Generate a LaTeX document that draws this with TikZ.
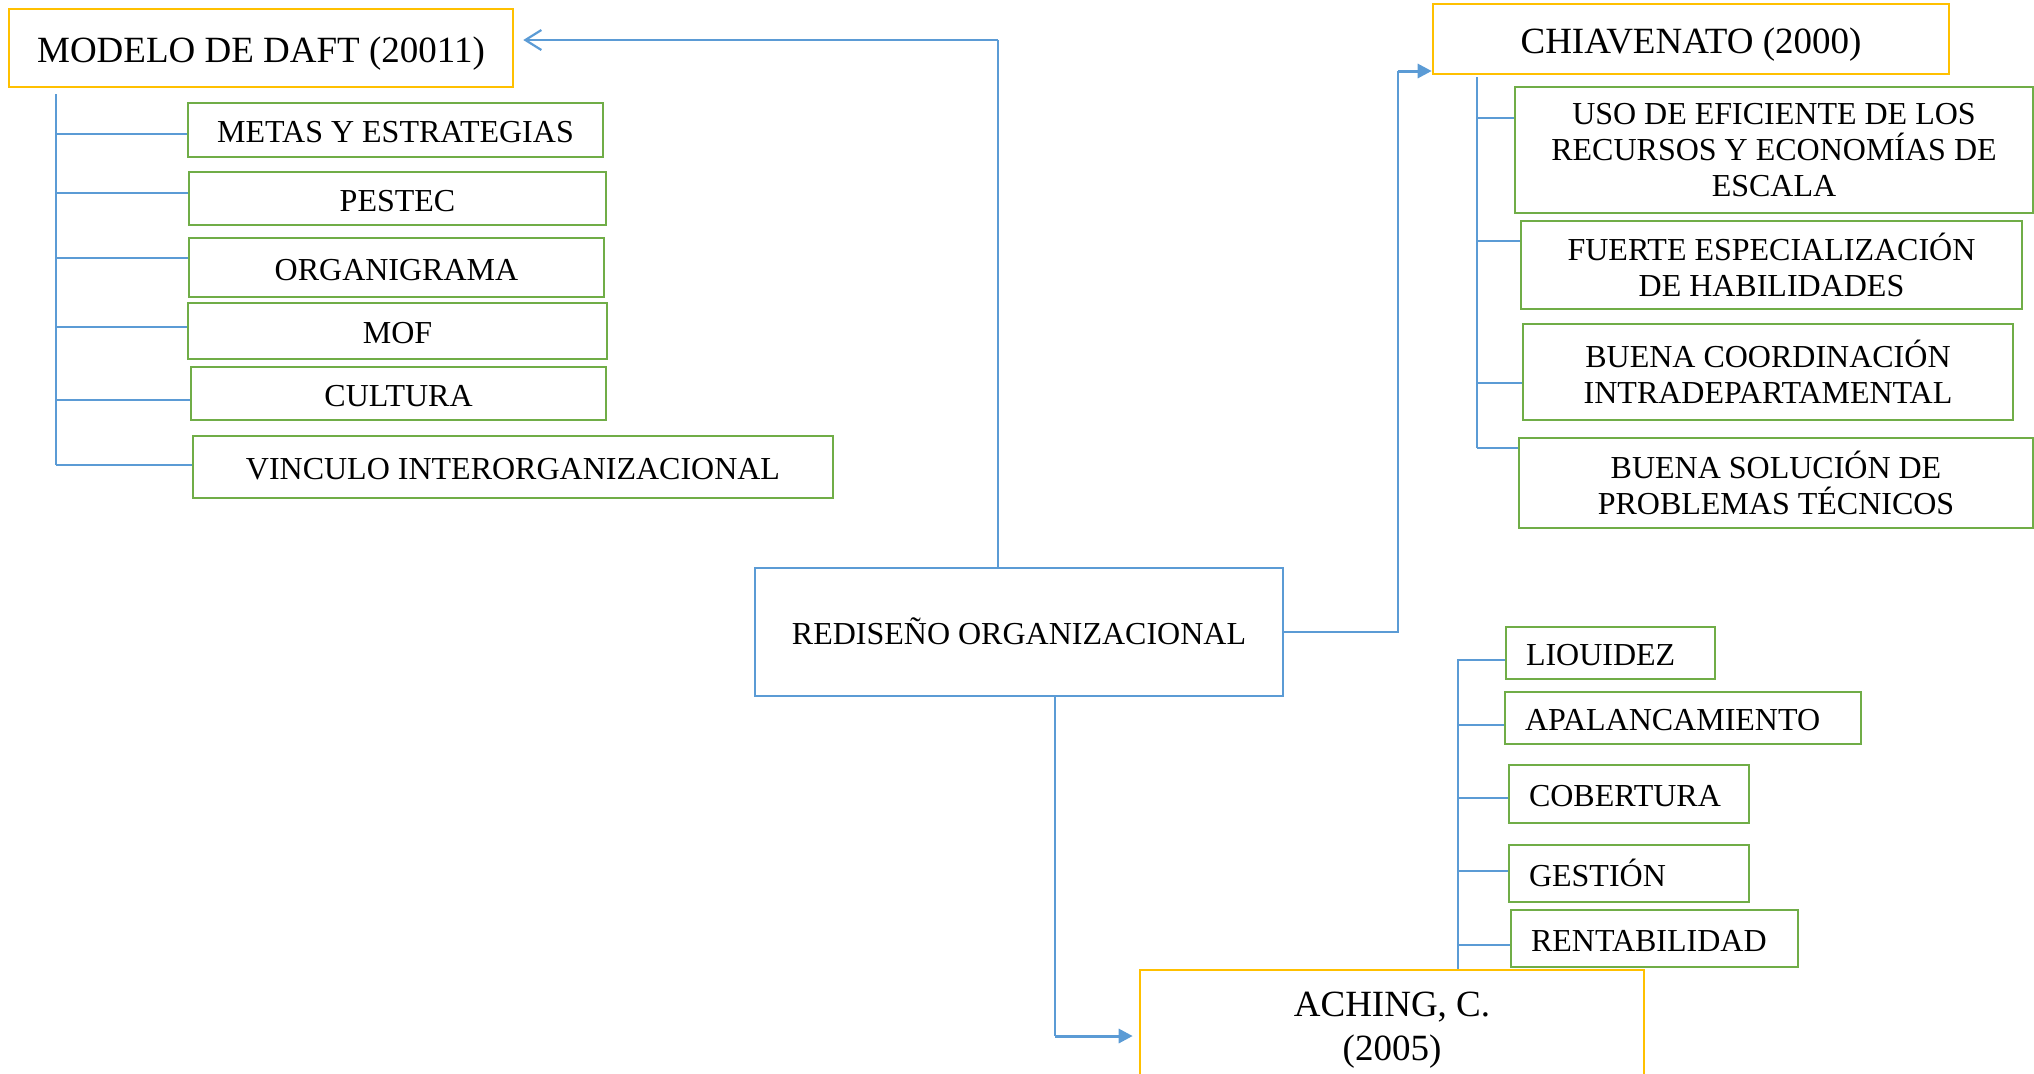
\documentclass[tikz,border=0pt]{standalone}
\usepackage{fontspec}
\setmainfont{Liberation Serif}
\usetikzlibrary{arrows.meta}
\definecolor{gold}{HTML}{FFC000}
\definecolor{grn}{HTML}{70AD47}
\definecolor{blu}{HTML}{5B9BD5}
\begin{document}
\begin{tikzpicture}[x=0.5pt,y=-0.5pt,
  box/.style={draw, line width=1.3pt, inner sep=0pt, align=center},
  hdr/.style={box, draw=gold, font=\fontsize{18.5}{22}\selectfont},
  item/.style={box, draw=grn, font=\fontsize{16}{18}\selectfont},
  litem/.style={item, one, align=left, inner xsep=10pt, text width=#1},
  mainbox/.style={box, draw=blu, font=\fontsize{16}{18}\selectfont},
  one/.style={text height=12.6pt, text depth=0pt},
  hone/.style={text height=14.25pt, text depth=0pt},
  conn/.style={draw=blu, line width=0.75pt},
  fatarrow/.style={draw=blu, line width=1.5pt, -{Triangle[length=7pt,width=7pt]}},
]
\clip (0,0) rectangle (2034,1073);

% Daft
\node[hdr, hone, minimum width=252pt, minimum height=39pt] (daft) at (261,48) {MODELO DE DAFT (20011)};
\node[item, one, minimum width=207.5pt, minimum height=27pt] (d1) at (395.5,130) {METAS Y ESTRATEGIAS};
\node[item, one, minimum width=208.5pt, minimum height=26.5pt] (d2) at (397.5,198.5) {PESTEC};
\node[item, one, minimum width=207.5pt, minimum height=29.5pt] (d3) at (396.5,267.5) {ORGANIGRAMA};
\node[item, one, minimum width=209.5pt, minimum height=28pt] (d4) at (397.5,331) {MOF};
\node[item, one, minimum width=207.5pt, minimum height=26.5pt] (d5) at (398.5,393.5) {CULTURA};
\node[item, one, minimum width=320pt, minimum height=31pt] (d6) at (513,467) {VINCULO INTERORGANIZACIONAL};

% Chiavenato
\node[hdr, hone, minimum width=258pt, minimum height=35pt] (chia) at (1691,39) {CHIAVENATO (2000)};
\node[item, minimum width=259pt, minimum height=63pt] (c1) at (1774,150) {USO DE EFICIENTE DE LOS\\RECURSOS Y ECONOMÍAS DE\\ESCALA};
\node[item, minimum width=250.5pt, minimum height=44pt] (c2) at (1771.5,265) {FUERTE ESPECIALIZACIÓN\\DE HABILIDADES};
\node[item, minimum width=245pt, minimum height=48pt] (c3) at (1768,372) {BUENA COORDINACIÓN\\INTRADEPARTAMENTAL};
\node[item, minimum width=257pt, minimum height=45pt] (c4) at (1776,483) {BUENA SOLUCIÓN DE\\PROBLEMAS TÉCNICOS};

% Center
\node[mainbox, one, minimum width=264pt, minimum height=64pt] (red) at (1019,632) {REDISEÑO ORGANIZACIONAL};

% Aching
\node[hdr, minimum width=252pt, minimum height=60pt] (ach) at (1392,1030) {ACHING, C.\\(2005)};
\node[litem=84.5pt, minimum height=26pt] (a1) at (1610.5,653) {LIOUIDEZ};
\node[litem=158pt, minimum height=26pt] (a2) at (1683,718) {APALANCAMIENTO};
\node[litem=100pt, minimum height=29pt] (a3) at (1629,794) {COBERTURA};
\node[litem=100pt, minimum height=28.5pt] (a4) at (1629,873.5) {GESTIÓN};
\node[litem=123.5pt, minimum height=28.5pt] (a5) at (1654.5,938.5) {RENTABILIDAD};

% main connectors
\coordinate (j1) at (998,40);
\draw[conn] (red.north -| j1) -- (j1);
\draw[blu, line width=1.1pt, -{Straight Barb[length=8pt,width=10pt]}, shorten >=4.5pt] (j1) -- (daft.east |- j1);
\coordinate (j2) at (1398,71);
\draw[conn] (red.east) -| (j2);
\draw[fatarrow] (j2) -- (chia.west |- j2);
\coordinate (j3) at (1055,1036);
\draw[conn] (red.south -| j3) -- (j3);
\draw[fatarrow, shorten >=3pt] (j3) -- (ach.west |- j3);

% Daft tree
\coordinate (dt) at (56,94);
\coordinate (db) at (56,465);
\draw[conn] (dt) -- (db);
\foreach \n/\y in {d1/134,d2/193,d3/258,d4/327,d5/400,d6/465}{
  \draw[conn] (56,\y) coordinate (t) -- (t -| \n.west);
}

% Chiavenato tree
\coordinate (ct) at (1477,77);
\coordinate (cb) at (1477,448);
\draw[conn] (ct) -- (cb);
\foreach \n/\y in {c1/118,c2/241,c3/383,c4/448}{
  \draw[conn] (1477,\y) coordinate (t) -- (t -| \n.west);
}

% Aching tree
\coordinate (at) at (1458,659);
\draw[conn] (ach.north -| at) -- (at);
\foreach \n/\y in {a1/660,a2/725,a3/798,a4/871,a5/945}{
  \draw[conn] (1458,\y) coordinate (t) -- (t -| \n.west);
}
\end{tikzpicture}
\end{document}
